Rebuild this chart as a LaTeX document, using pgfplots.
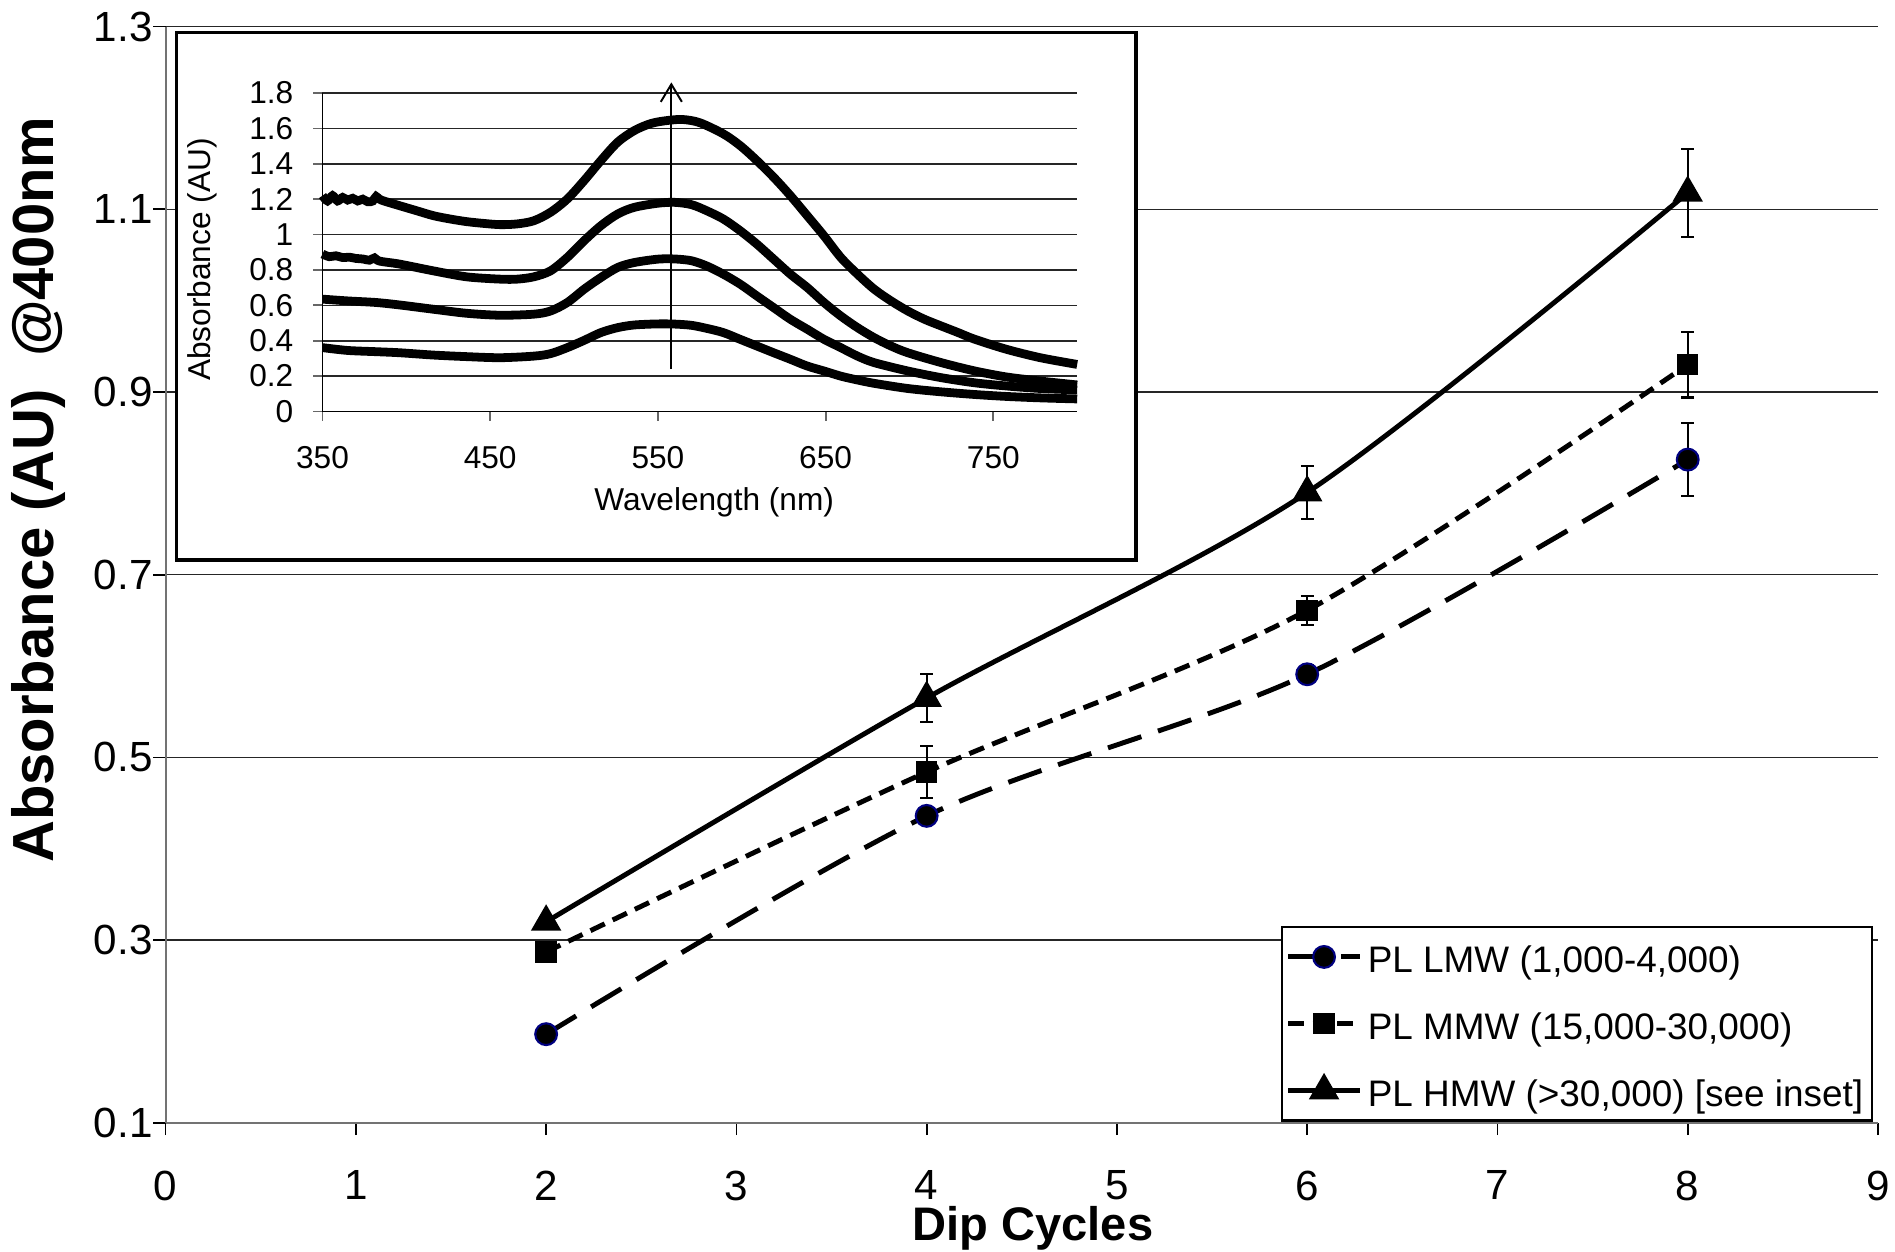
\documentclass[border=0pt]{standalone}
\usepackage{fontspec}
\setmainfont{Liberation Sans}
\usepackage{pgfplots}
\pgfplotsset{compat=1.18}
\usetikzlibrary{arrows.meta}
\definecolor{navy}{RGB}{0,0,128}

\begin{document}
\begin{tikzpicture}[x=1cm,y=1cm]
\useasboundingbox (0,0) rectangle (18.95,12.52);
\begin{axis}[
  at={(1.656cm,1.292cm)}, anchor=south west,
  scale only axis, width=17.124cm, height=10.962cm,
  xmin=0, xmax=9, ymin=0.1, ymax=1.3,
  xtick={0,1,...,9}, xticklabels={0,1,2,3,4,5,6,7,8,9},
  ytick={0.1,0.3,0.5,0.7,0.9,1.1,1.3},
  yticklabels={0.1,0.3,0.5,0.7,0.9,1.1,1.3},
  axis x line*=bottom, axis y line*=left,
  axis line style={black!55, line width=0.6pt, -},
  tick align=outside, major tick length=3.5pt,
  tick style={black, line width=0.5pt},
  ymajorgrids, grid style={black!85, line width=0.45pt},
  tick label style={font=\fontsize{12}{14}\selectfont},
  yticklabel style={anchor=east, inner sep=0pt, xshift=0pt},
  xticklabel style={anchor=north, inner sep=0pt, yshift=-10pt},
  xlabel={Dip Cycles},
  xlabel style={font=\fontsize{13.4}{15}\selectfont\bfseries, at={(axis description cs:0.5065,0)}, anchor=base, yshift=-1.18cm},
  ylabel={Absorbance (AU)\ \ @400nm},
  ylabel style={font=\fontsize{16.5}{19}\selectfont\bfseries, at={(axis description cs:-0.0745,0.5777)}, anchor=center},
  legend style={at={(0.6514,0.0011)}, anchor=south west, draw=black, line width=0.6pt, fill=white,
    font=\fontsize{10.5}{12.6}\selectfont, inner xsep=1pt, inner ysep=2pt, row sep=5.9pt,
    nodes={inner sep=1.5pt, text height=9.5pt, text depth=0.6pt}},
  legend cell align=left,
  legend image code/.code={\draw[mark repeat=2,mark phase=2] plot coordinates {(0cm,0cm) (0.36cm,0cm) (0.72cm,0cm)};},
  error bars/error bar style={black, line width=0.6pt, solid},
  error bars/error mark options={rotate=90, mark size=1.8pt, line width=0.6pt, black, solid},
]
\addplot[black, line width=1.4pt, dash pattern=on 10pt off 5pt, smooth,
  mark=*, mark size=3.1pt, mark options={solid, fill=black, draw=navy, line width=0.6pt},
  error bars/.cd, y dir=both, y explicit]
  table[x=x, y=y, y error=e] {
x y e
2 0.197 0
4 0.436 0.006
6 0.591 0.010
8 0.826 0.040
};
\addlegendentry{PL LMW (1,000-4,000)}
\addplot[black, line width=1.4pt, dash pattern=on 4.5pt off 2.5pt, smooth,
  mark=square*, mark size=2.85pt, mark options={solid, fill=black, draw=black, line width=0.4pt},
  error bars/.cd, y dir=both, y explicit]
  table[x=x, y=y, y error=e] {
x y e
2 0.287 0
4 0.484 0.028
6 0.661 0.016
8 0.930 0.036
};
\addlegendentry{PL MMW (15,000-30,000)}
\addplot[black, line width=1.4pt, solid, smooth,
  mark=triangle*, mark size=4.6pt, mark options={solid, fill=black, draw=black, line width=0.4pt},
  error bars/.cd, y dir=both, y explicit]
  table[x=x, y=y, y error=e] {
x y e
2 0.320 0
4 0.565 0.026
6 0.790 0.029
8 1.118 0.048
};
\addlegendentry{PL HMW (>30,000) [see inset]}
\end{axis}

\draw[black, line width=0.9pt, fill=white] (1.767,6.92) rectangle (11.36,12.197);

\begin{axis}[
  at={(3.225cm,8.405cm)}, anchor=south west,
  scale only axis, width=7.547cm, height=3.185cm,
  xmin=350, xmax=800, ymin=0, ymax=1.8,
  xtick={350,450,550,650,750}, xticklabels={350,450,550,650,750},
  ytick={0,0.2,0.4,0.6,0.8,1,1.2,1.4,1.6,1.8},
  yticklabels={0,0.2,0.4,0.6,0.8,1,1.2,1.4,1.6,1.8},
  axis x line*=bottom, axis y line*=left,
  axis line style={black, line width=0.5pt, -},
  tick align=outside, major tick length=2.6pt,
  tick style={black!60, line width=0.5pt},
  ymajorgrids, grid style={black!85, line width=0.45pt},
  tick label style={font=\fontsize{9}{10.8}\selectfont},
  yticklabel style={anchor=east, inner sep=0pt, xshift=-5.5pt},
  xticklabel style={anchor=north, inner sep=0pt, yshift=-7pt},
  xlabel={Wavelength (nm)},
  xlabel style={font=\fontsize{9}{10.8}\selectfont, at={(axis description cs:0.519,0)}, anchor=base, yshift=-0.995cm},
  ylabel={Absorbance (AU)},
  ylabel style={font=\fontsize{9}{10.8}\selectfont, at={(axis description cs:-0.159,0.477)}, anchor=center},
  clip=false,
]
\addplot[black, line width=2.5pt, smooth] table {
350 1.22
353 1.19
356 1.22
359 1.19
362 1.21
365 1.195
368 1.205
371 1.19
374 1.20
377 1.185
380 1.19
382 1.215
385 1.195
396 1.163
406 1.135
416 1.107
426 1.088
436 1.073
446 1.063
456 1.056
466 1.060
476 1.078
486 1.126
496 1.201
506 1.305
516 1.418
526 1.522
536 1.588
546 1.628
556 1.645
565 1.650
575 1.632
589 1.569
599 1.503
609 1.418
619 1.324
629 1.220
639 1.107
649 0.993
659 0.871
669 0.776
679 0.691
689 0.625
699 0.568
709 0.521
719 0.483
729 0.446
739 0.408
758 0.351
778 0.304
800 0.266
};
\addplot[black, line width=2.5pt, smooth] table {
350 0.89
354 0.875
358 0.88
362 0.87
366 0.872
370 0.865
374 0.862
378 0.855
381 0.868
384 0.85
396 0.833
416 0.795
436 0.761
456 0.748
466 0.748
476 0.761
486 0.795
496 0.871
506 0.965
516 1.050
526 1.116
536 1.154
550 1.177
560 1.182
570 1.169
579 1.135
589 1.088
599 1.022
609 0.946
619 0.861
629 0.776
639 0.701
649 0.616
659 0.540
669 0.474
679 0.417
689 0.370
699 0.332
719 0.276
739 0.229
758 0.195
778 0.172
800 0.150
};
\addplot[black, line width=2.5pt, smooth] table {
350 0.635
365 0.625
382 0.616
396 0.602
416 0.578
436 0.555
456 0.544
476 0.550
486 0.568
496 0.616
506 0.691
516 0.757
526 0.814
536 0.842
550 0.861
560 0.862
570 0.852
579 0.823
589 0.776
599 0.720
609 0.653
619 0.587
629 0.521
639 0.465
649 0.408
659 0.361
669 0.313
679 0.276
699 0.229
719 0.191
739 0.162
758 0.144
778 0.130
800 0.122
};
\addplot[black, line width=2.5pt, smooth] table {
350 0.361
365 0.345
382 0.338
396 0.332
416 0.319
436 0.310
456 0.304
476 0.313
486 0.327
496 0.361
506 0.402
516 0.446
526 0.474
536 0.489
550 0.495
560 0.494
570 0.487
579 0.470
589 0.446
599 0.408
609 0.370
619 0.332
629 0.295
639 0.257
649 0.229
659 0.200
669 0.178
679 0.159
699 0.130
719 0.111
739 0.096
758 0.085
778 0.077
800 0.071
};
\addplot[black, line width=0.55pt, -{Straight Barb[length=5pt,width=6pt,line width=0.55pt]}] coordinates {(558,0.24) (558,1.86)};
\end{axis}
\end{tikzpicture}
\end{document}
